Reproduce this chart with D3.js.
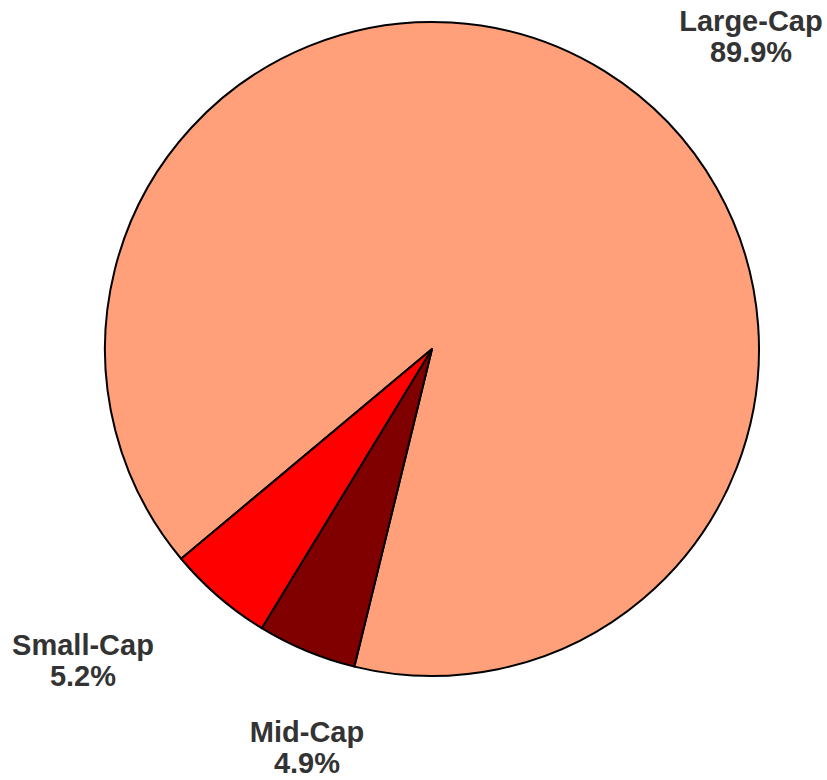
<!DOCTYPE html>
<html>
<head>
<meta charset="utf-8">
<script src="https://cdn.jsdelivr.net/npm/d3@7"></script>
<style>
html,body{margin:0;padding:0;background:#fff;}
svg{display:block;}
</style>
</head>
<body>
<svg id="chart" width="827" height="780"></svg>
<script>
const categories = ["Large-Cap", "Mid-Cap", "Small-Cap"];
const values = [89.9, 4.9, 5.2];
const colors = ["#FFA07A", "#800000", "#FF0000"];

// layout (not data)
const cx = 432, cy = 349, radius = 327;
const startDeg = 230.1;
const labelPos = [[751, 31], [307, 742], [83, 655]];

const svg = d3.select("#chart");
const g = svg.append("g").attr("transform", `translate(${cx},${cy})`);

const data = categories.map((c, i) => ({name: c, value: values[i], color: colors[i]}));
const start = startDeg * Math.PI / 180;
const pie = d3.pie().sort(null).value(d => d.value).startAngle(start).endAngle(start + 2 * Math.PI);
const arc = d3.arc().innerRadius(0).outerRadius(radius);

g.selectAll("path").data(pie(data)).join("path")
  .attr("d", arc)
  .attr("fill", d => d.data.color)
  .attr("stroke", "#000")
  .attr("stroke-width", 2)
  .attr("stroke-linejoin", "round");

const lbl = svg.append("g")
  .attr("font-family", "Liberation Sans, Arial, sans-serif")
  .attr("font-weight", "bold")
  .attr("font-size", 29)
  .attr("fill", "#333333")
  .attr("text-anchor", "middle");

data.forEach((d, i) => {
  const t = lbl.append("text").attr("x", labelPos[i][0]).attr("y", labelPos[i][1]);
  t.append("tspan").attr("x", labelPos[i][0]).text(d.name);
  t.append("tspan").attr("x", labelPos[i][0]).attr("dy", 30.5).text(d.value.toFixed(1) + "%");
});
</script>
</body>
</html>
